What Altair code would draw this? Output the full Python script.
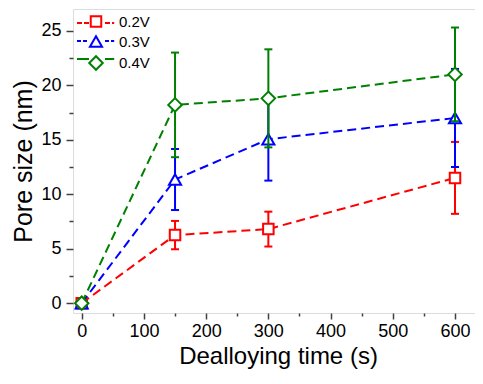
import altair as alt
import pandas as pd

times = [0, 150, 300, 600]
series_names = ["0.2V", "0.3V", "0.4V"]
line_keys = ["line-0.2V", "line-0.3V", "line-0.4V"]
pore_02 = [0, 6.25, 6.8, 11.5]
err_02 = [0, 1.3, 1.6, 3.3]
pore_03 = [0, 11.35, 15.05, 17.0]
err_03 = [0, 2.8, 3.8, 4.5]
pore_04 = [0, 18.2, 18.8, 21.0]
err_04 = [0, 4.8, 4.5, 4.3]
colors = ["#FF0000", "#0000FF", "#008000"]
shapes = ["square", "triangle-up", "diamond"]
marker_sizes = [110, 182, 256]
legend_dashes = [[5, 2], [4, 2], [1, 0]]

rows = []
for name, key, ys, es in zip(series_names, line_keys, [pore_02, pore_03, pore_04], [err_02, err_03, err_04]):
    for t, y, e in zip(times, ys, es):
        rows.append({"series": name, "series_l": key, "time": t, "pore": y,
                     "lo": y - e, "hi": y + e, "err": e})
df = pd.DataFrame(rows)

FONT = "Liberation Sans"
LX, LY = 15, 5

legend_lines = alt.Legend(
    title=None, orient="none", legendX=LX, legendY=LY, padding=0,
    symbolType="M-2.5,0H-1.0M1.0,0H2.15", symbolSize=256, symbolStrokeWidth=2,
    symbolFillColor="transparent", labelExpr="''", labelFontSize=15, labelFont=FONT,
    labelOffset=15, rowPadding=1,
)
legend_shapes = alt.Legend(
    title=None, orient="none", legendX=LX, legendY=LY, padding=0,
    symbolStrokeWidth=2, symbolFillColor="white",
    labelFontSize=15, labelFont=FONT, labelColor="black", labelOffset=15, rowPadding=1,
)

x_scale = alt.Scale(domain=[-14, 645], nice=False, zero=False)
y_scale = alt.Scale(domain=[-0.9, 27], nice=False, zero=False)

x_axis = alt.Axis(
    title="Dealloying time (s)", values=list(range(0, 650, 50)),
    labelExpr="datum.value % 100 === 0 ? '' + datum.value : ''",
    tickSize={"condition": {"test": "datum.value % 100 === 0", "value": 6}, "value": 3},
    tickWidth=1.5, tickColor="#404040", labelPadding=3, labelFontSize=18, labelFont=FONT,
    labelColor="black", titleFontSize=24, titleFont=FONT, titleFontWeight="normal",
    titleColor="black", titlePadding=4, grid=False, domain=False,
)
y_axis = alt.Axis(
    title="Pore size (nm)", values=[i * 2.5 for i in range(11)],
    labelExpr="datum.value % 5 === 0 ? '' + datum.value : ''",
    tickSize={"condition": {"test": "datum.value % 5 === 0", "value": 7}, "value": 4},
    tickWidth=1.5, tickColor="#404040", labelPadding=5, labelFontSize=18, labelFont=FONT,
    labelColor="black", titleFontSize=25, titleFont=FONT, titleFontWeight="normal",
    titleColor="black", titlePadding=4, grid=False, domain=False,
)

x_enc = alt.X("time:Q", scale=x_scale, axis=x_axis)
stroke_enc = alt.Stroke("series:N", scale=alt.Scale(domain=series_names, range=colors), legend=legend_shapes)
shape_enc = alt.Shape("series:N", scale=alt.Scale(domain=series_names, range=shapes), legend=legend_shapes)
size_enc = alt.Size("series:N", scale=alt.Scale(domain=series_names, range=marker_sizes), legend=legend_shapes)
line_color_enc = alt.Color("series_l:N", scale=alt.Scale(domain=line_keys, range=colors), legend=legend_lines)
dash_enc = alt.StrokeDash("series_l:N", scale=alt.Scale(domain=line_keys, range=legend_dashes), legend=legend_lines)

base = alt.Chart(df)

# zero-length line used only to give the line legend its dash styles
legend_dummy = base.transform_filter(alt.datum.time == 0).mark_line(strokeWidth=2).encode(
    x=x_enc, y=alt.Y("pore:Q", scale=y_scale, axis=y_axis), color=line_color_enc, strokeDash=dash_enc)

layers = [legend_dummy]
for name in series_names:
    sub = base.transform_filter(alt.datum.series == name)
    errs = sub.transform_filter(alt.datum.err > 0)
    line = sub.mark_line(strokeDash=[9, 5], strokeWidth=2).encode(
        x=x_enc, y=alt.Y("pore:Q", scale=y_scale, axis=y_axis), color=line_color_enc)
    pts = sub.mark_point(filled=False, fill="white", strokeWidth=2, opacity=1).encode(
        x=x_enc, y=alt.Y("pore:Q", scale=y_scale, axis=y_axis),
        stroke=stroke_enc, shape=shape_enc, size=size_enc)
    rule = errs.mark_rule(strokeWidth=2).encode(
        x=x_enc, y=alt.Y("lo:Q", scale=y_scale, axis=y_axis), y2="hi:Q", stroke=stroke_enc)
    cap_lo = errs.mark_rule(strokeWidth=2, xOffset=-4, x2Offset=4).encode(
        x=x_enc, x2="time:Q", y=alt.Y("lo:Q", scale=y_scale, axis=y_axis), stroke=stroke_enc)
    cap_hi = errs.mark_rule(strokeWidth=2, xOffset=-4, x2Offset=4).encode(
        x=x_enc, x2="time:Q", y=alt.Y("hi:Q", scale=y_scale, axis=y_axis), stroke=stroke_enc)
    layers += [line, rule, cap_lo, cap_hi, pts]

chart = alt.layer(*layers).properties(
    width=410, height=304,
    padding={"left": 65, "top": 1, "right": -8, "bottom": 57},
    autosize=alt.AutoSizeParams(type="none"),
).configure_view(stroke="#404040", strokeWidth=1.5).configure(background="white")

chart.save("out.html", embed_options={"renderer": "svg", "actions": False})
